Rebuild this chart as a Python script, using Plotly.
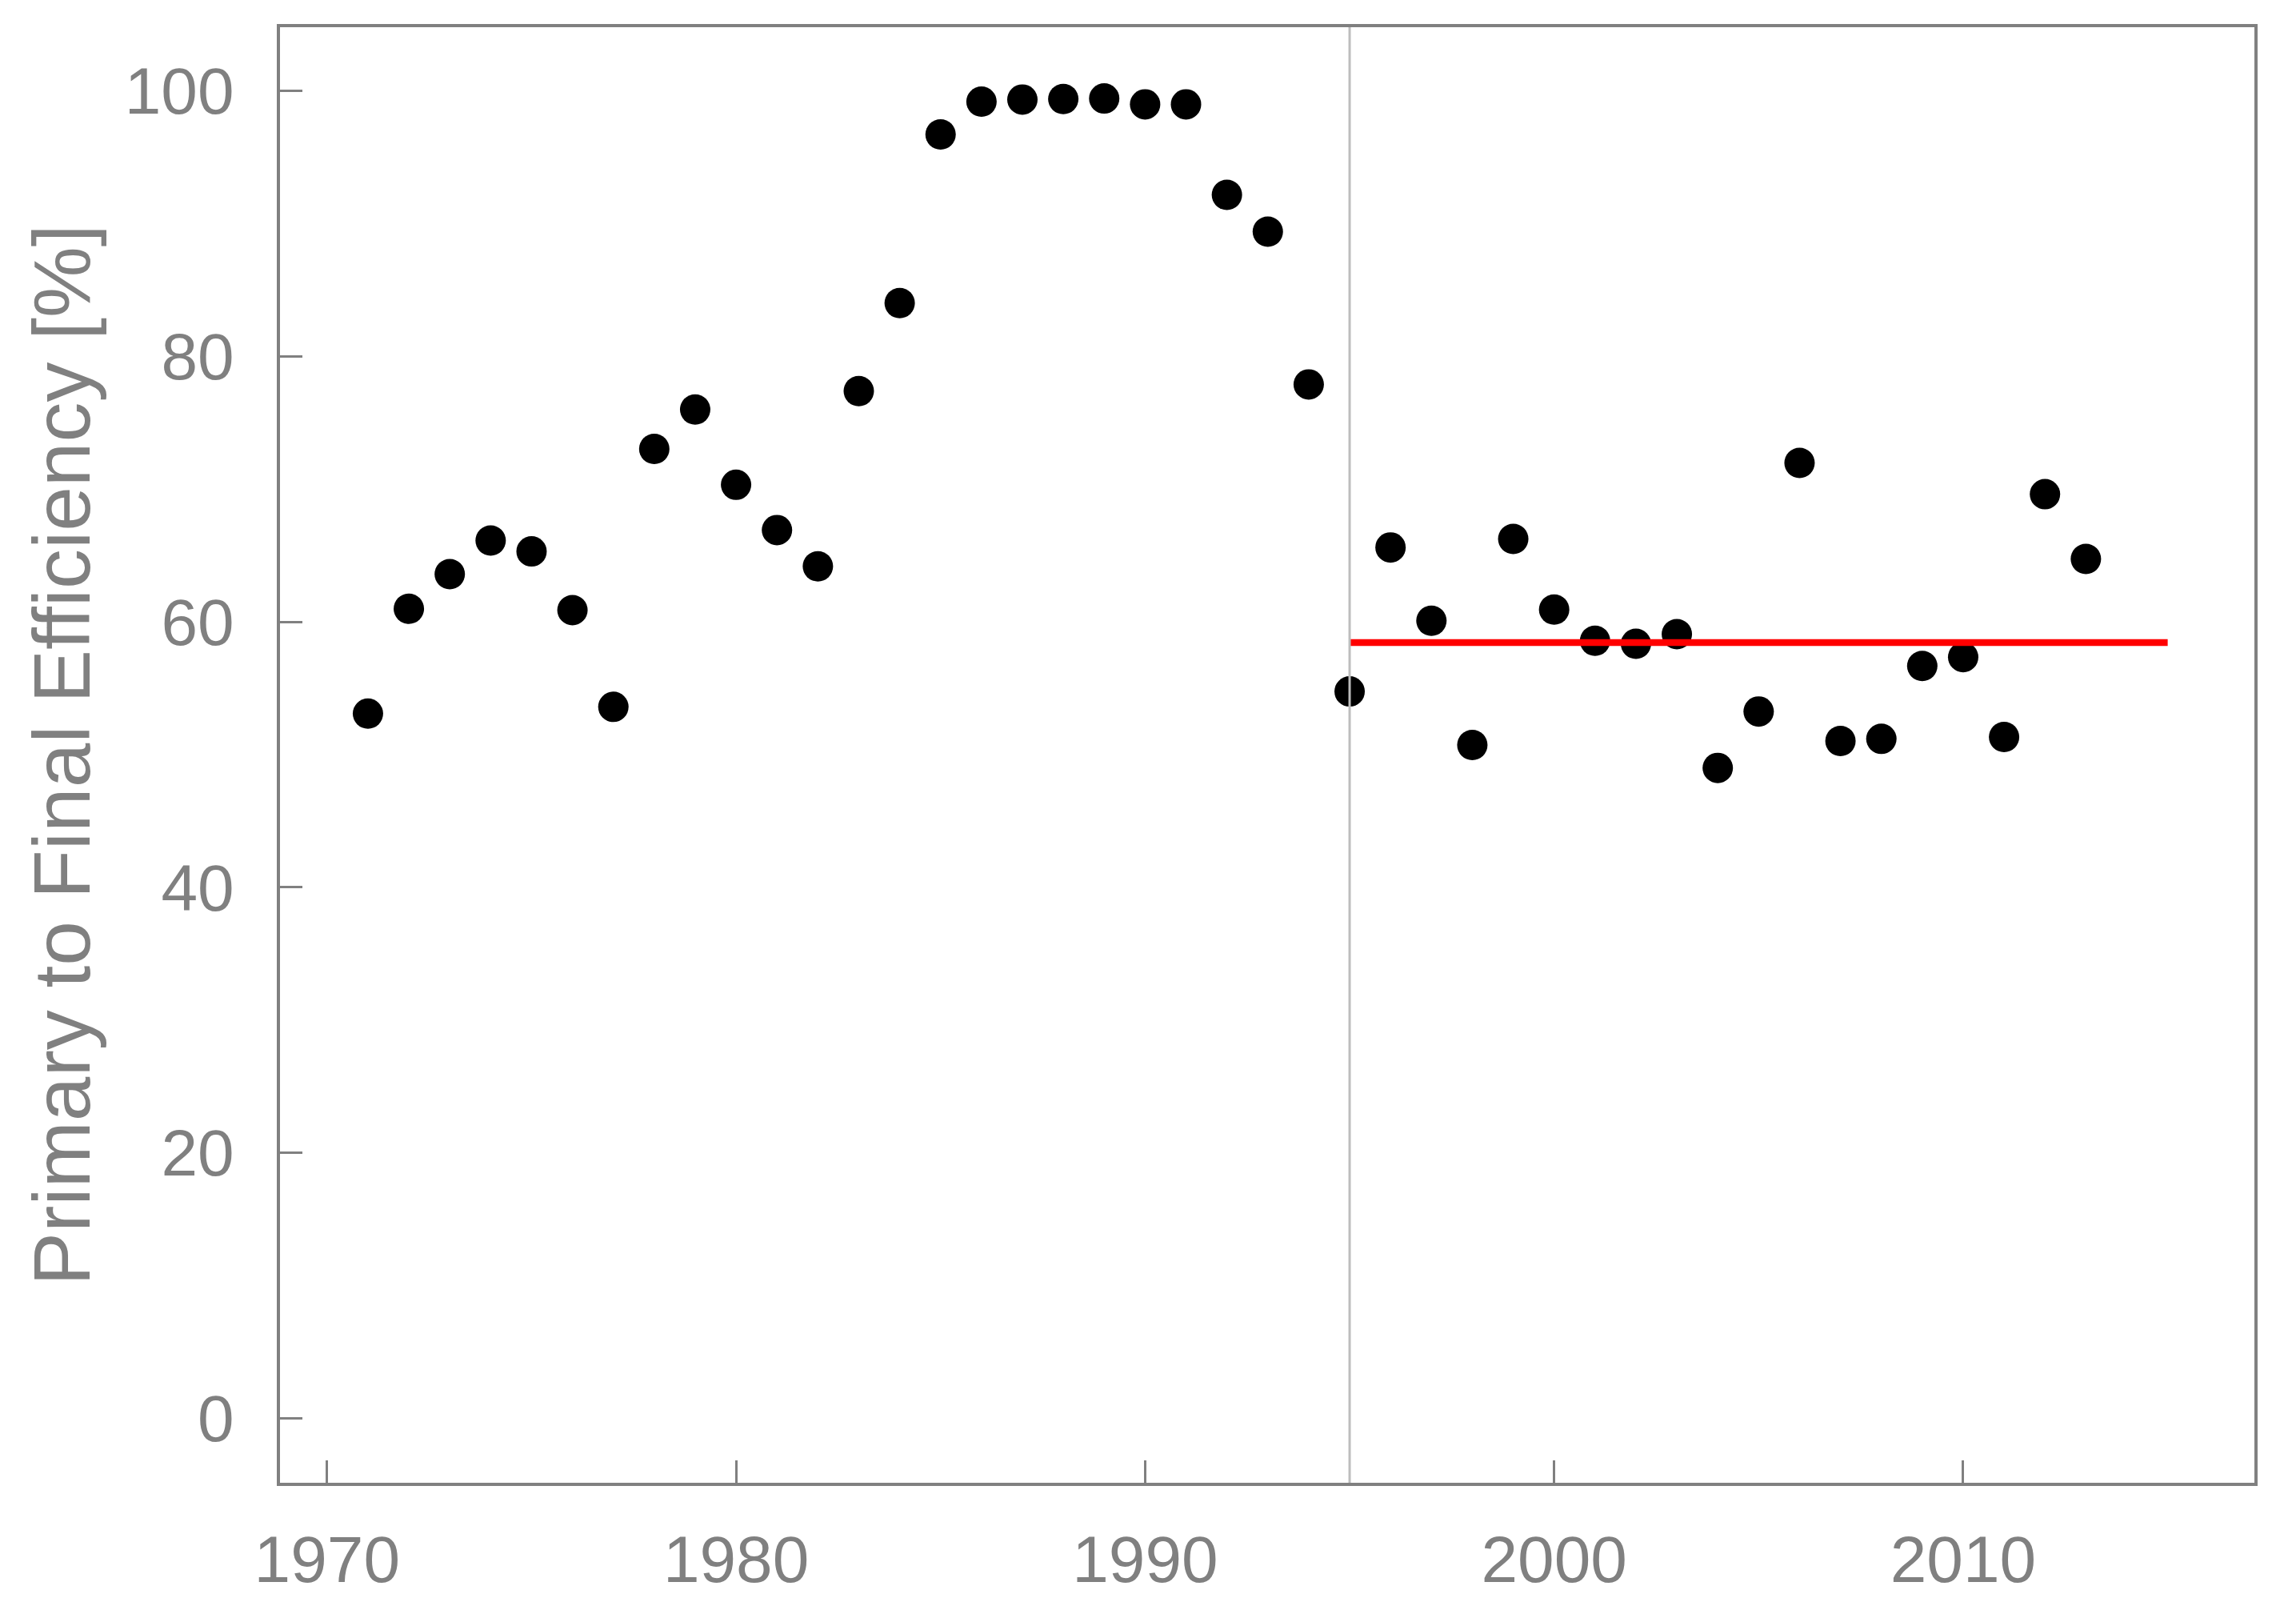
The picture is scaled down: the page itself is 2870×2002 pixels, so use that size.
import plotly.graph_objects as go

years = list(range(1971, 2014))
efficiency = [
    53.08, 60.98, 63.59, 66.12, 65.30, 60.88, 53.59, 73.02, 75.99, 70.32,
    66.91, 64.18, 77.38, 84.01, 96.71, 99.18, 99.34, 99.38, 99.42, 98.98,
    98.98, 92.16, 89.39, 77.88, 54.75, 65.60, 60.08, 50.72, 66.24, 60.92,
    58.57, 58.34, 59.07, 48.99, 53.24, 71.97, 51.02, 51.18, 56.67, 57.34,
    51.32, 69.61, 64.73,
]
cutoff_year = 1995
mean_end_year = 2015
x_ticks = [1970, 1980, 1990, 2000, 2010]
y_ticks = [0, 20, 40, 60, 80, 100]

post = [v for y, v in zip(years, efficiency) if y >= cutoff_year]
post_mean = sum(post) / len(post)

GREY = "#808080"
FONT = "Liberation Sans, Arial, sans-serif"

fig = go.Figure()
fig.add_trace(go.Scatter(
    x=years, y=efficiency, mode="markers",
    marker=dict(color="black", size=38, line=dict(width=0)),
    showlegend=False, hoverinfo="x+y",
))
fig.add_trace(go.Scatter(
    x=[cutoff_year, mean_end_year], y=[post_mean, post_mean], mode="lines",
    line=dict(color="#ff0000", width=8.5),
    showlegend=False,
))
fig.add_shape(
    type="line", xref="x", yref="paper",
    x0=cutoff_year, x1=cutoff_year, y0=0, y1=1,
    line=dict(color="#bdbdbd", width=3), layer="above",
)

axis_common = dict(
    showline=True, linecolor=GREY, linewidth=4, mirror=True,
    ticks="inside", ticklen=28, tickwidth=3, tickcolor=GREY,
    showgrid=False, zeroline=False,
    tickfont=dict(family=FONT, size=82, color=GREY),
)

fig.update_xaxes(
    range=[1968.85, 2017.12], tickvals=x_ticks,
    ticklabelstandoff=22, **axis_common,
)
fig.update_yaxes(
    range=[-4.86, 104.79], tickvals=y_ticks,
    ticklabelstandoff=37,
    title=dict(text="Primary to Final Efficiency [%]",
               font=dict(family=FONT, size=100, color=GREY), standoff=11),
    **axis_common,
)

fig.update_layout(
    width=2870, height=2002,
    margin=dict(l=350, r=52, t=34, b=149, autoexpand=False),
    paper_bgcolor="white", plot_bgcolor="white",
)

fig.write_html(
    "out.html",
    config={"displayModeBar": False},
    post_script="document.body.style.margin='0';document.body.style.padding='0';"
                "document.documentElement.style.overflow='hidden';",
)
